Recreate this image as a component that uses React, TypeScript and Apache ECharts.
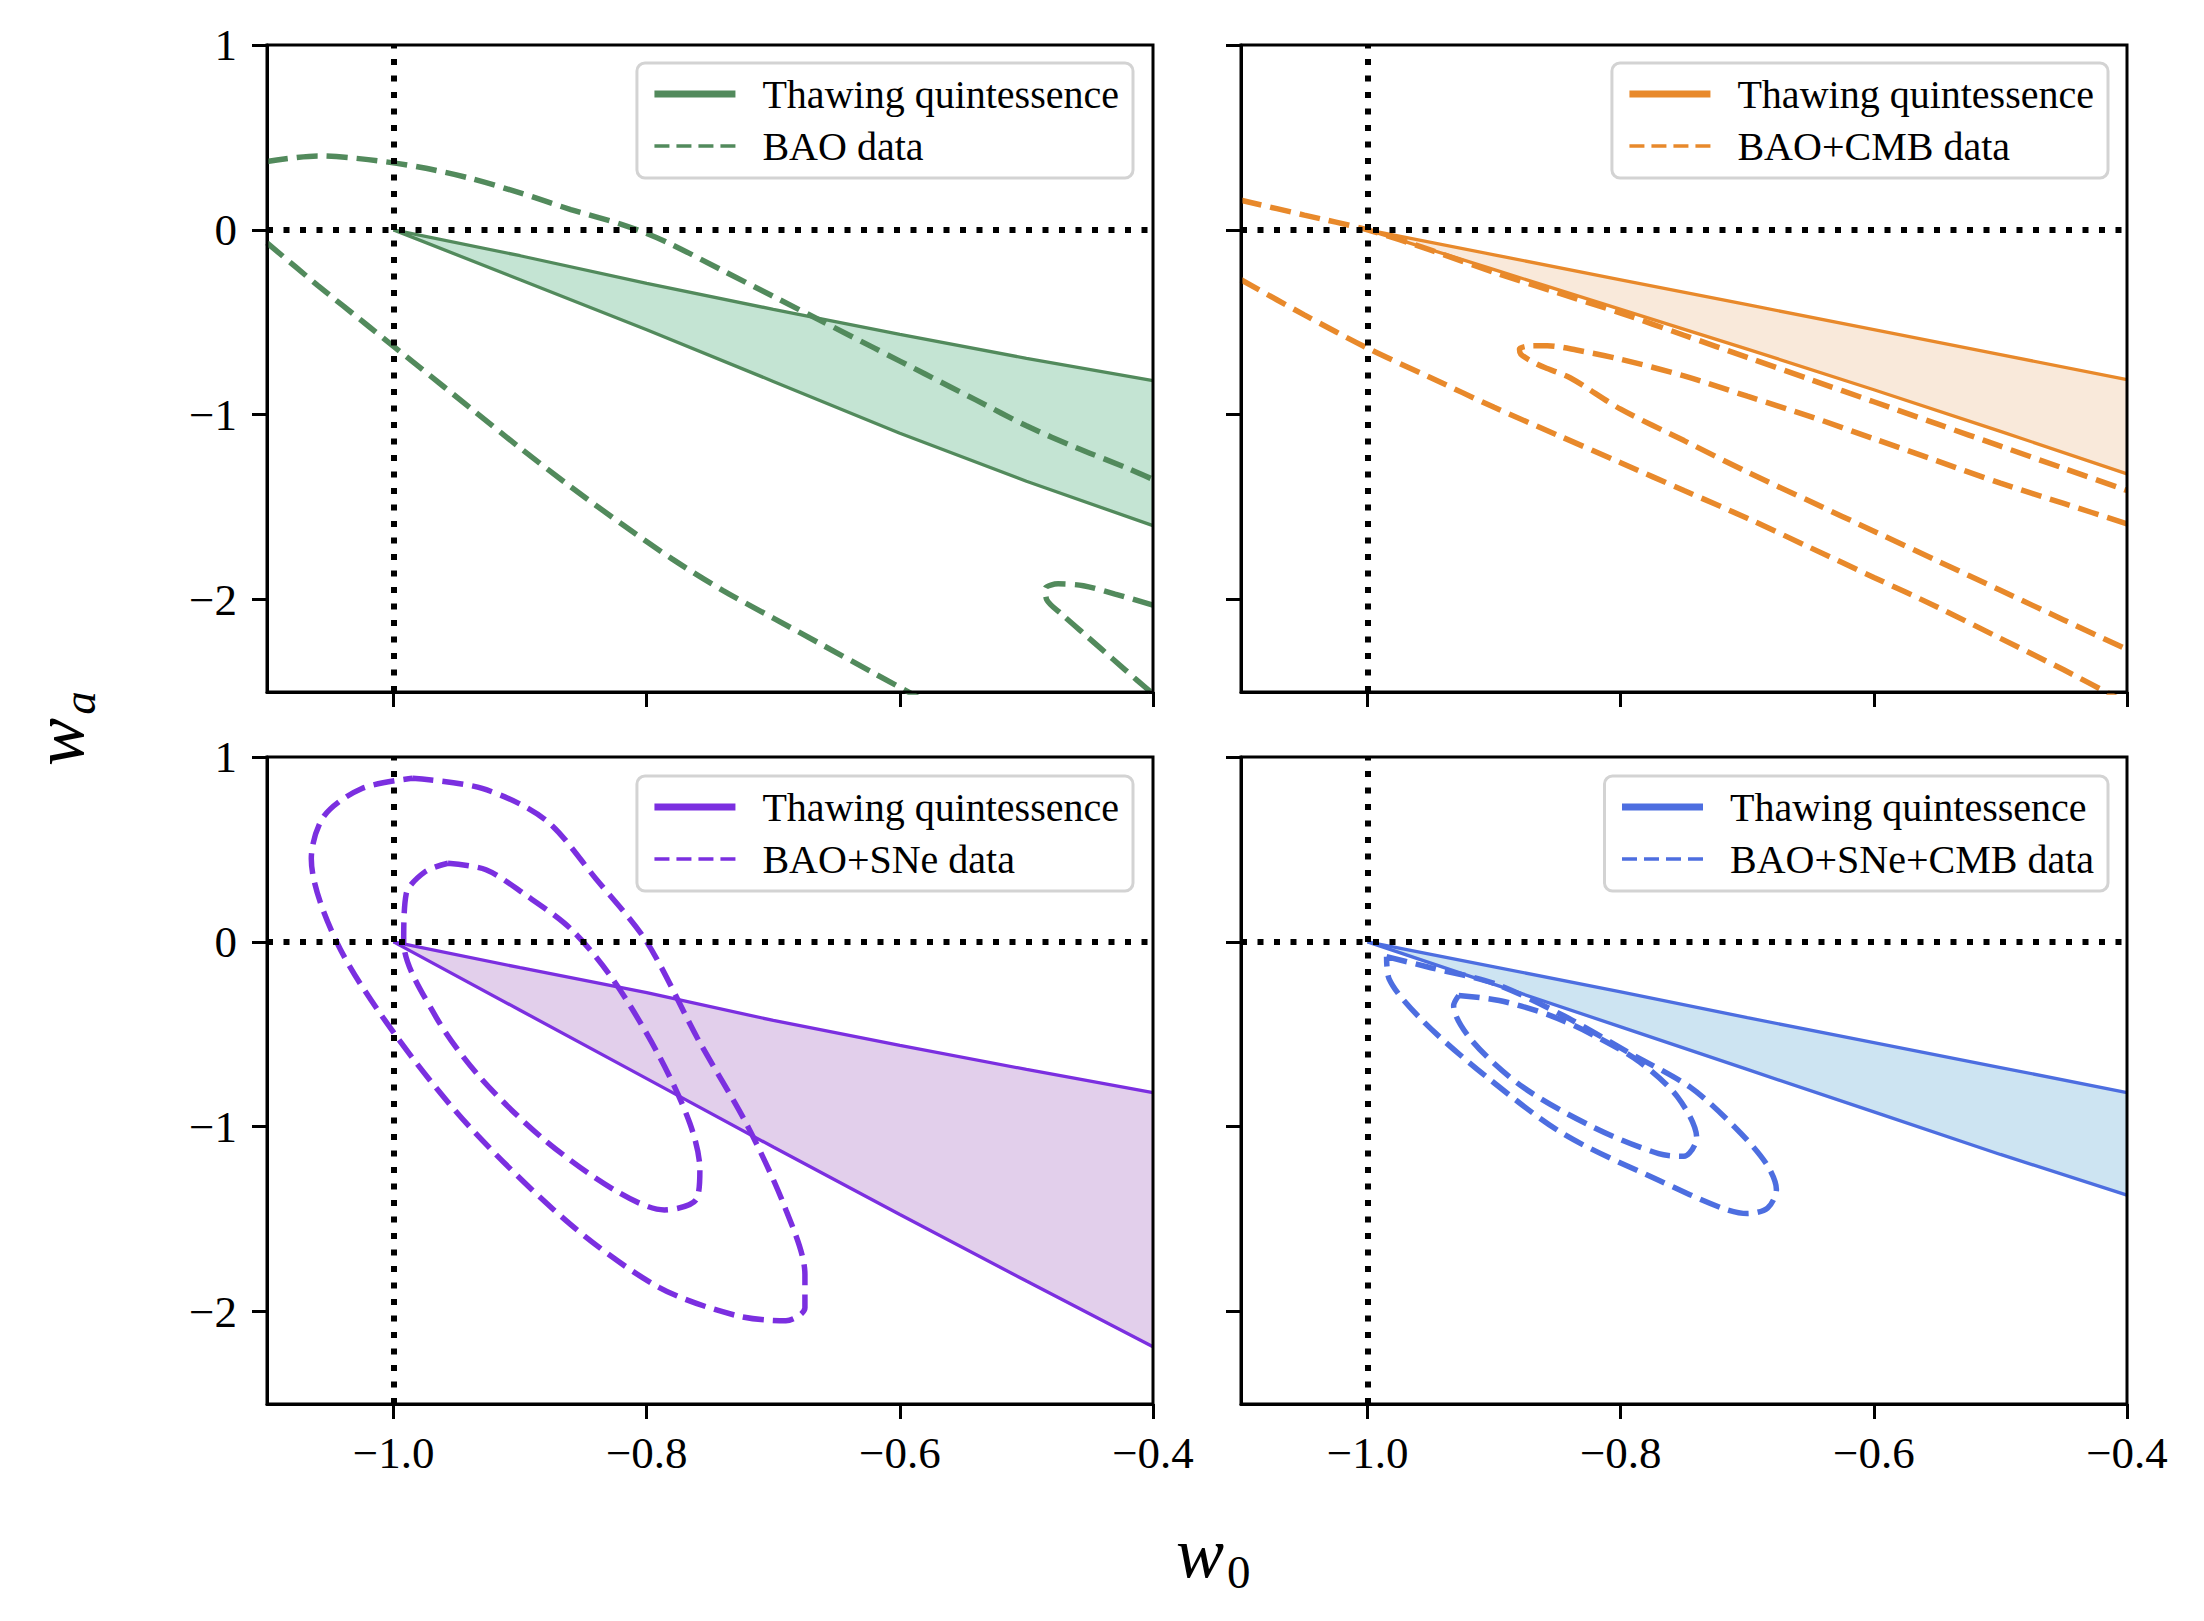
import React, { useEffect, useRef } from 'react';
import * as echarts from 'echarts';

// ---------- axes / ticks ----------
const W0_RANGE = [-1.1, -0.4];
const WA_RANGE = [-2.5, 1];
const X_TICKS = [-1.0, -0.8, -0.6, -0.4];
const Y_TICKS = [-2, -1, 0, 1];
const LCDM_W0 = -1;
const LCDM_WA = 0;

// ---------- labels ----------
const THAW_LABEL = 'Thawing quintessence';
const DATA_LABELS = ['BAO data', 'BAO+CMB data', 'BAO+SNe data', 'BAO+SNe+CMB data'];

// ---------- thawing quintessence band (sampled on W0_GRID) ----------
const W0_GRID = [-1.0, -0.9, -0.8, -0.7, -0.6, -0.5, -0.4];

const BAO_THAW_UPPER = [0, -0.14, -0.29, -0.43, -0.565, -0.695, -0.815];
const BAO_THAW_LOWER = [0, -0.27, -0.54, -0.82, -1.1, -1.36, -1.6];

const CMB_THAW_UPPER = [0, -0.135, -0.27, -0.405, -0.54, -0.675, -0.81];
const CMB_THAW_LOWER = [0, -0.215, -0.43, -0.645, -0.865, -1.09, -1.32];

const SNE_THAW_UPPER = [0, -0.14, -0.275, -0.425, -0.56, -0.69, -0.815];
const SNE_THAW_LOWER = [0, -0.37, -0.74, -1.11, -1.475, -1.835, -2.19];

const ALL_THAW_UPPER = [0, -0.135, -0.27, -0.41, -0.545, -0.68, -0.815];
const ALL_THAW_LOWER = [0, -0.23, -0.46, -0.69, -0.92, -1.15, -1.37];

// ---------- data contours [w0, wa] ----------
const BAO_OUTER_UPPER = [
  [-1.10, 0.37], [-1.06, 0.40], [-1.02, 0.38], [-0.98, 0.34], [-0.94, 0.28], [-0.90, 0.20],
  [-0.86, 0.11], [-0.82, 0.03], [-0.80, -0.02], [-0.78, -0.08], [-0.74, -0.22], [-0.70, -0.36],
  [-0.66, -0.50], [-0.62, -0.64], [-0.58, -0.78], [-0.54, -0.92], [-0.50, -1.06], [-0.46, -1.18],
  [-0.42, -1.29], [-0.40, -1.35],
];
const BAO_OUTER_LOWER = [
  [-1.10, -0.07], [-1.06, -0.30], [-1.02, -0.52], [-0.98, -0.74], [-0.94, -0.96], [-0.90, -1.18],
  [-0.86, -1.39], [-0.82, -1.59], [-0.78, -1.78], [-0.74, -1.95], [-0.70, -2.10], [-0.66, -2.25],
  [-0.62, -2.40], [-0.58, -2.55],
];
const BAO_INNER = [
  [-0.40, -2.03], [-0.43, -1.97], [-0.455, -1.925], [-0.475, -1.915], [-0.485, -1.94],
  [-0.484, -2.00], [-0.472, -2.08], [-0.452, -2.20], [-0.432, -2.32], [-0.412, -2.44], [-0.40, -2.51],
];

const CMB_OUTER_UPPER = [
  [-1.10, 0.16], [-1.05, 0.08], [-1.00, 0.0], [-0.95, -0.11], [-0.90, -0.23], [-0.85, -0.34],
  [-0.80, -0.45], [-0.75, -0.57], [-0.70, -0.69], [-0.65, -0.81], [-0.60, -0.93], [-0.55, -1.05],
  [-0.50, -1.17], [-0.45, -1.29], [-0.40, -1.41],
];
const CMB_OUTER_LOWER = [
  [-1.10, -0.27], [-1.05, -0.46], [-1.00, -0.64], [-0.95, -0.80], [-0.90, -0.96], [-0.85, -1.11],
  [-0.80, -1.26], [-0.75, -1.41], [-0.70, -1.56], [-0.65, -1.72], [-0.60, -1.88], [-0.55, -2.04],
  [-0.50, -2.21], [-0.45, -2.38], [-0.40, -2.56],
];
const CMB_INNER = [
  [-0.40, -1.59], [-0.45, -1.48], [-0.50, -1.37], [-0.55, -1.25], [-0.60, -1.13], [-0.65, -1.01],
  [-0.70, -0.90], [-0.75, -0.79], [-0.80, -0.70], [-0.835, -0.65], [-0.858, -0.627], [-0.872, -0.628],
  [-0.88, -0.645], [-0.879, -0.672], [-0.872, -0.705], [-0.86, -0.745], [-0.84, -0.80], [-0.80, -0.97],
  [-0.75, -1.14], [-0.70, -1.31], [-0.65, -1.47], [-0.60, -1.63], [-0.55, -1.79], [-0.50, -1.95],
  [-0.45, -2.11], [-0.40, -2.27],
];

const SNE_OUTER = [
  [-0.985, 0.885], [-0.93, 0.83], [-0.88, 0.66], [-0.84, 0.34], [-0.80, 0.0], [-0.76, -0.52],
  [-0.72, -1.0], [-0.69, -1.45], [-0.675, -1.80], [-0.675, -1.98], [-0.69, -2.05], [-0.73, -2.02],
  [-0.79, -1.87], [-0.86, -1.53], [-0.94, -1.0], [-1.0, -0.49], [-1.045, 0.0], [-1.065, 0.45],
  [-1.055, 0.68], [-1.025, 0.83], [-0.985, 0.885],
];
const SNE_INNER = [
  [-0.957, 0.425], [-0.927, 0.39], [-0.897, 0.26], [-0.86, 0.07], [-0.826, -0.21], [-0.79, -0.62],
  [-0.766, -0.98], [-0.758, -1.23], [-0.761, -1.395], [-0.786, -1.45], [-0.826, -1.34],
  [-0.882, -1.064], [-0.932, -0.73], [-0.967, -0.40], [-0.992, 0.0], [-0.99, 0.26], [-0.975, 0.38],
  [-0.957, 0.425],
];

const ALL_OUTER = [
  [-0.985, -0.08], [-0.95, -0.14], [-0.90, -0.225], [-0.845, -0.40], [-0.795, -0.594],
  [-0.745, -0.787], [-0.709, -1.008], [-0.685, -1.20], [-0.677, -1.34], [-0.684, -1.44],
  [-0.70, -1.47], [-0.72, -1.44], [-0.77, -1.29], [-0.845, -1.04], [-0.906, -0.73], [-0.956, -0.43],
  [-0.983, -0.20], [-0.985, -0.08],
];
const ALL_INNER = [
  [-0.928, -0.29], [-0.896, -0.317], [-0.855, -0.40], [-0.82, -0.51], [-0.785, -0.65], [-0.755, -0.84],
  [-0.74, -1.06], [-0.75, -1.16], [-0.77, -1.146], [-0.82, -1.008], [-0.877, -0.787], [-0.917, -0.539],
  [-0.932, -0.345], [-0.928, -0.29],
];

// ---------- layout / style ----------
const FONT = '"Liberation Serif", "Times New Roman", serif';
const GRID_W = 886;
const GRID_H = 647;

const PANELS = [
  { left: 267, top: 45, legendRight: 1071, legendTop: 63, color: '#528a5c', fill: '#c4e4d3',
    upper: BAO_THAW_UPPER, lower: BAO_THAW_LOWER, contours: [BAO_OUTER_UPPER, BAO_OUTER_LOWER, BAO_INNER],
    label: DATA_LABELS[0], showX: false, showY: true },
  { left: 1241, top: 45, legendRight: 96, legendTop: 63, color: '#e8892b', fill: '#f9e9da',
    upper: CMB_THAW_UPPER, lower: CMB_THAW_LOWER, contours: [CMB_OUTER_UPPER, CMB_OUTER_LOWER, CMB_INNER],
    label: DATA_LABELS[1], showX: false, showY: false },
  { left: 267, top: 757, legendRight: 1071, legendTop: 776, color: '#7b2fe0', fill: '#e2cfeb',
    upper: SNE_THAW_UPPER, lower: SNE_THAW_LOWER, contours: [SNE_OUTER, SNE_INNER],
    label: DATA_LABELS[2], showX: true, showY: true },
  { left: 1241, top: 757, legendRight: 96, legendTop: 776, color: '#4d6ee0', fill: '#cde4f2',
    upper: ALL_THAW_UPPER, lower: ALL_THAW_LOWER, contours: [ALL_OUTER, ALL_INNER],
    label: DATA_LABELS[3], showX: true, showY: false },
];

const fmtX = (v: number) => (v < 0 ? '\u2212' : '') + Math.abs(v).toFixed(1);
const fmtY = (v: number) => (v < 0 ? '\u2212' : '') + Math.abs(v).toFixed(0);

function buildOption() {
  const series: any[] = [];
  PANELS.forEach((p, i) => {
    series.push({
      type: 'custom',
      xAxisIndex: i,
      yAxisIndex: i,
      silent: true,
      z: 1,
      data: [[W0_GRID[0], p.upper[0]]],
      renderItem: (_params: any, api: any) => {
        const top = W0_GRID.map((x, k) => api.coord([x, p.upper[k]]));
        const bottom = W0_GRID.map((x, k) => api.coord([x, p.lower[k]])).reverse();
        return { type: 'polygon', shape: { points: top.concat(bottom) }, style: { fill: p.fill } };
      },
    });
    series.push({
      type: 'line',
      name: `${THAW_LABEL}#${i}`,
      xAxisIndex: i,
      yAxisIndex: i,
      data: W0_GRID.map((x, k) => [x, p.upper[k]]),
      symbol: 'none',
      lineStyle: { color: p.color, width: 3.3 },
      itemStyle: { color: p.color },
      emphasis: { disabled: true },
      z: 2,
    });
    series.push({
      type: 'line',
      name: `${THAW_LABEL}#${i}b`,
      xAxisIndex: i,
      yAxisIndex: i,
      data: W0_GRID.map((x, k) => [x, p.lower[k]]),
      symbol: 'none',
      lineStyle: { color: p.color, width: 3.3 },
      itemStyle: { color: p.color },
      emphasis: { disabled: true },
      z: 2,
      markLine: {
        silent: true,
        symbol: ['none', 'none'],
        label: { show: false },
        lineStyle: { color: '#000', width: 6, type: [6, 10.5], cap: 'butt' },
        emphasis: { disabled: true },
        data: [{ xAxis: LCDM_W0 }, { yAxis: LCDM_WA }],
      },
    });
    p.contours.forEach((c) => {
      series.push({
        type: 'line',
        name: p.label,
        xAxisIndex: i,
        yAxisIndex: i,
        data: c,
        smooth: 0.3,
        symbol: 'none',
        lineStyle: { color: p.color, width: 5.5, type: [21, 9], cap: 'butt' },
        itemStyle: { color: p.color },
        emphasis: { disabled: true },
        z: 3,
      });
    });
  });

  const graphic: any[] = PANELS.map((p) => ({
    type: 'rect',
    z: 100,
    silent: true,
    shape: { x: p.left, y: p.top, width: GRID_W, height: GRID_H },
    style: { fill: 'none', stroke: '#000', lineWidth: 3 },
  }));
  graphic.push(
    { type: 'text', x: 1176, y: 1553, z: 100,
      style: { text: 'w', fontFamily: FONT, fontStyle: 'italic', fontSize: 72, fill: '#000', align: 'left', verticalAlign: 'middle' } },
    { type: 'text', x: 1227, y: 1572, z: 100,
      style: { text: '0', fontFamily: FONT, fontSize: 47, fill: '#000', align: 'left', verticalAlign: 'middle' } },
    { type: 'text', x: 59, y: 742, rotation: Math.PI / 2, z: 100,
      style: { text: 'w', fontFamily: FONT, fontStyle: 'italic', fontSize: 72, fill: '#000', align: 'center', verticalAlign: 'middle' } },
    { type: 'text', x: 79, y: 703, rotation: Math.PI / 2, z: 100,
      style: { text: 'a', fontFamily: FONT, fontStyle: 'italic', fontSize: 47, fill: '#000', align: 'center', verticalAlign: 'middle' } },
  );

  return {
    animation: false,
    backgroundColor: '#fff',
    grid: PANELS.map((p) => ({ left: p.left, top: p.top, width: GRID_W, height: GRID_H, containLabel: false })),
    xAxis: PANELS.map((p, i) => ({
      type: 'value',
      gridIndex: i,
      min: W0_RANGE[0],
      max: W0_RANGE[1],
      axisLine: { show: true, onZero: false, lineStyle: { color: '#000', width: 3 } },
      axisTick: { show: true, inside: false, length: 15, customValues: X_TICKS, lineStyle: { color: '#000', width: 3 } },
      axisLabel: { show: p.showX, customValues: X_TICKS, formatter: fmtX, margin: 26, fontFamily: FONT, fontSize: 45, color: '#000' },
      splitLine: { show: false },
    })),
    yAxis: PANELS.map((p, i) => ({
      type: 'value',
      gridIndex: i,
      min: WA_RANGE[0],
      max: WA_RANGE[1],
      axisLine: { show: true, onZero: false, lineStyle: { color: '#000', width: 3 } },
      axisTick: { show: true, inside: false, length: 15, customValues: Y_TICKS, lineStyle: { color: '#000', width: 3 } },
      axisLabel: { show: p.showY, customValues: Y_TICKS, formatter: fmtY, margin: 30, fontFamily: FONT, fontSize: 45, color: '#000' },
      splitLine: { show: false },
    })),
    legend: PANELS.map((p, i) => ({
      orient: 'vertical',
      right: p.legendRight,
      top: p.legendTop,
      selectedMode: false,
      itemWidth: 81,
      itemHeight: 14,
      itemGap: 8,
      padding: [9, 14, 10, 14],
      backgroundColor: '#fff',
      borderColor: '#d3d3d3',
      borderWidth: 3,
      borderRadius: 8,
      formatter: (n: string) => n.split('#')[0],
      textStyle: { fontFamily: FONT, fontSize: 40, color: '#000', lineHeight: 44, padding: [0, 0, 0, 22] },
      data: [
        { name: `${THAW_LABEL}#${i}`, lineStyle: { width: 7, type: 'solid' }, itemStyle: { opacity: 0 } },
        { name: p.label, lineStyle: { width: 3.5, type: [15, 7] }, itemStyle: { opacity: 0 } },
      ],
    })),
    graphic,
    series,
  };
}

export default function App() {
  const ref = useRef<HTMLDivElement>(null);
  useEffect(() => {
    const chart = echarts.init(ref.current as HTMLDivElement, null, { renderer: 'svg', width: 2204, height: 1621 });
    chart.setOption(buildOption() as any);
    return () => chart.dispose();
  }, []);
  return (
    <div
      ref={ref}
      style={{ position: 'absolute', left: 0, top: 0, width: 2204, height: 1621, background: '#fff' }}
    />
  );
}
